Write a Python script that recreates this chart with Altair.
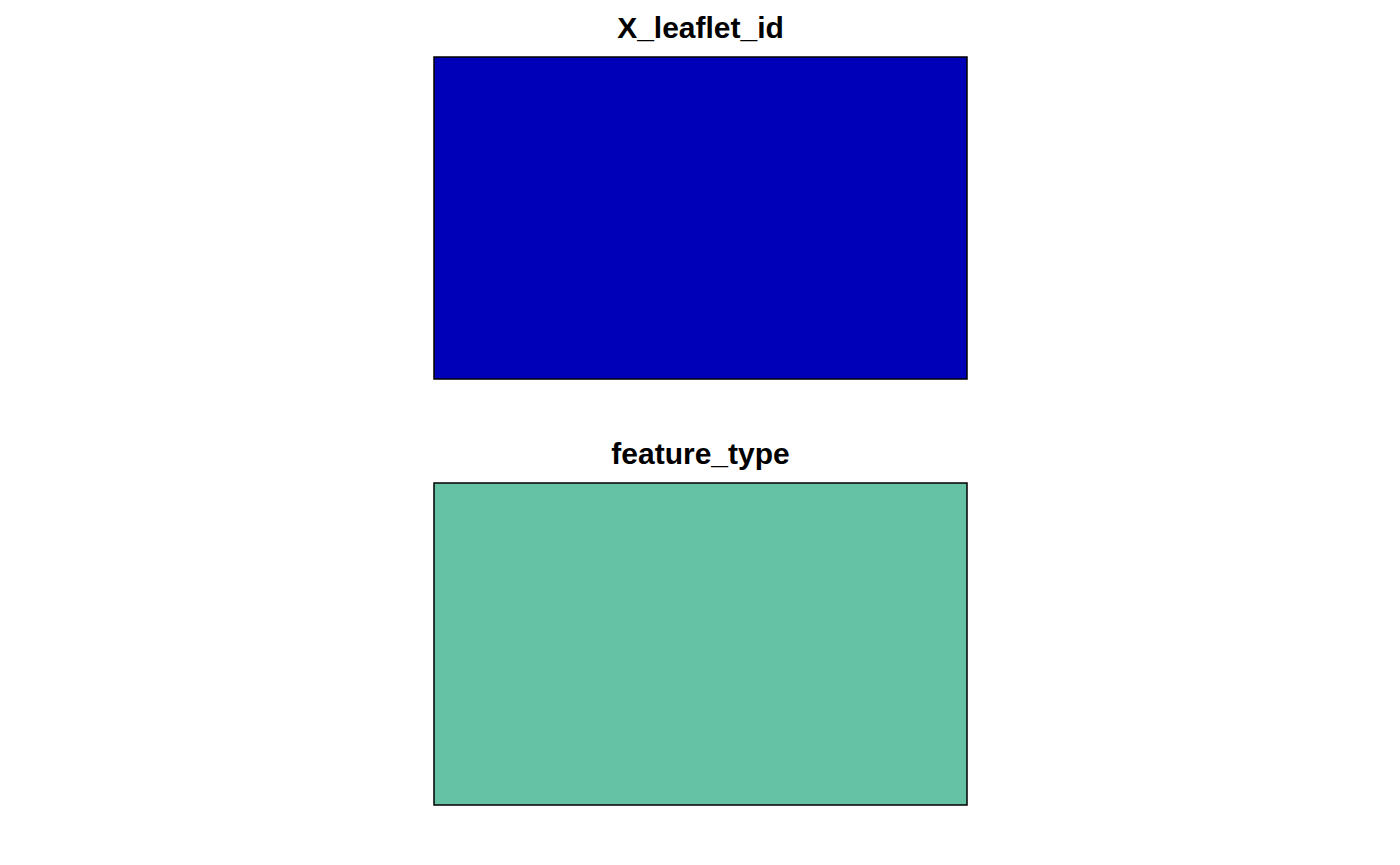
import altair as alt
import pandas as pd

titles = ["X_leaflet_id", "feature_type"]
colors = ["#0000B8", "#66C2A5"]

def panel(t, c):
    df = pd.DataFrame({"x": [0], "x2": [1], "y": [0], "y2": [1]})
    sc = alt.Scale(domain=[0, 1], nice=False, zero=False)
    return alt.Chart(df).mark_rect(color=c, stroke="black", strokeWidth=1.5).encode(
        x=alt.X("x:Q", scale=sc, axis=None), x2="x2",
        y=alt.Y("y:Q", scale=sc, axis=None), y2="y2",
    ).properties(width=533, height=322,
                 title=alt.TitleParams(t, fontSize=30, font="Liberation Sans", fontWeight="bold",
                                       color="black", offset=12, anchor="middle"))

chart = alt.vconcat(panel(titles[0], colors[0]), panel(titles[1], colors[1]), spacing=60).properties(
    padding={"left": 425, "top": 6, "right": 0, "bottom": 0}
).configure_view(stroke=None)

chart.save("out.html", embed_options={"renderer": "svg", "actions": False})
